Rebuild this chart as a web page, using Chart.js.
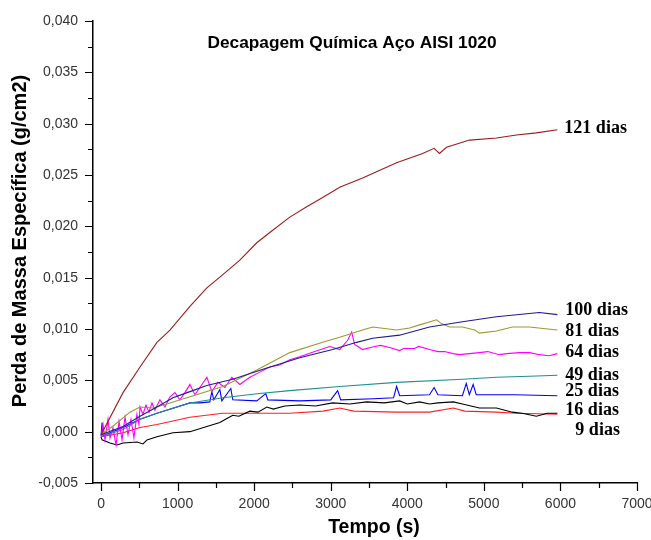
<!DOCTYPE html>
<html>
<head>
<meta charset="utf-8">
<script src="https://cdn.jsdelivr.net/npm/chart.js@4.4.1/dist/chart.umd.min.js"></script>
<style>
  html, body { margin: 0; padding: 0; background: #fff; }
  #wrap { width: 651px; height: 540px; }
</style>
</head>
<body>
<div id="wrap"><canvas id="chart" width="651" height="540"></canvas></div>
<script>
// ── Dados ──────────────────────────────────────────────────────
const xTicks = [0, 1000, 2000, 3000, 4000, 5000, 6000, 7000];
const yTicks = [-0.005, 0, 0.005, 0.010, 0.015, 0.020, 0.025, 0.030, 0.035, 0.040];

const t121 = [0, 287, 509, 730, 900, 1161, 1382, 1591, 1813, 2034, 2204, 2465, 2686, 2895, 3117, 3416, 3860, 4200, 4350, 4420, 4512, 4812, 5164, 5425, 5685, 5960];
const v121 = [-0.0003, 0.0038, 0.0063, 0.0087, 0.0099, 0.0122, 0.0140, 0.0153, 0.0167, 0.0184, 0.0194, 0.0209, 0.0219, 0.0228, 0.0238, 0.0247, 0.0262, 0.0271, 0.0276, 0.0271, 0.0277, 0.0284, 0.0286, 0.0289, 0.0291, 0.0294];

const t100 = [0, 287, 509, 730, 939, 1161, 1382, 1721, 2165, 2595, 3025, 3338, 3547, 3899, 4290, 4721, 5164, 5725, 5960];
const v100 = [-0.0003, 0.0005, 0.0015, 0.0024, 0.0033, 0.0039, 0.0045, 0.0051, 0.0062, 0.0072, 0.0080, 0.0087, 0.0091, 0.0094, 0.0102, 0.0107, 0.0112, 0.0116, 0.0114];

const t81 = [0, 183, 378, 509, 678, 900, 1161, 1591, 2034, 2465, 2895, 3117, 3416, 3547, 3860, 4030, 4160, 4382, 4450, 4551, 4721, 4880, 4942, 5164, 5373, 5594, 5960];
const v81 = [-0.0003, 0.0007, 0.0019, 0.0024, 0.0023, 0.0028, 0.0034, 0.0044, 0.0060, 0.0077, 0.0087, 0.0092, 0.0099, 0.0102, 0.0099, 0.0101, 0.0104, 0.0109, 0.0105, 0.0102, 0.0102, 0.0099, 0.0096, 0.0098, 0.0102, 0.0102, 0.0099];

const t64 = [0, 26, 52, 91, 117, 156, 196, 235, 274, 313, 352, 391, 430, 469, 495, 509, 548, 587, 626, 665, 704, 769, 835, 900, 965, 1030, 1095, 1161, 1226, 1291, 1382, 1447, 1526, 1617, 1708, 1813, 1943, 2073, 2204, 2334, 2465, 2595, 2791, 2986, 3117, 3221, 3273, 3312, 3416, 3573, 3650, 3769, 3899, 3950, 4095, 4150, 4290, 4400, 4486, 4600, 4682, 4942, 5050, 5203, 5300, 5464, 5600, 5725, 5850, 5960];
const v64 = [-0.0005, 0.0007, -0.0008, 0.0012, -0.0006, 0.0004, -0.0013, 0.0010, -0.0008, 0.0014, -0.0003, 0.0012, -0.0006, 0.0017, 0.0007, 0.0024, 0.0017, 0.0026, 0.0019, 0.0028, 0.0021, 0.0031, 0.0024, 0.0034, 0.0038, 0.0031, 0.0038, 0.0046, 0.0036, 0.0043, 0.0053, 0.0039, 0.0048, 0.0043, 0.0053, 0.0046, 0.0053, 0.0058, 0.0063, 0.0065, 0.0070, 0.0073, 0.0078, 0.0083, 0.0080, 0.0089, 0.0097, 0.0085, 0.0080, 0.0083, 0.0084, 0.0082, 0.0079, 0.0081, 0.0081, 0.0083, 0.0080, 0.0078, 0.0078, 0.0076, 0.0075, 0.0077, 0.0078, 0.0075, 0.0076, 0.0077, 0.0077, 0.0075, 0.0074, 0.0076];

const t49 = [0, 287, 509, 730, 1161, 1591, 2034, 2465, 3117, 3860, 4721, 5164, 5594, 5960];
const v49 = [-0.0005, 0.0002, 0.0012, 0.0018, 0.0028, 0.0033, 0.0037, 0.0040, 0.0044, 0.0048, 0.0051, 0.0053, 0.0054, 0.0055];

const t25 = [0, 13, 26, 287, 509, 730, 1161, 1291, 1421, 1447, 1473, 1552, 1578, 1695, 1721, 2034, 2152, 2178, 2595, 3000, 3090, 3130, 3560, 3820, 3860, 3900, 4290, 4350, 4400, 4720, 4770, 4810, 4860, 4900, 5400, 5960];
const v25 = [-0.0004, 0.0009, -0.0004, 0.0004, 0.0012, 0.0018, 0.0028, 0.0028, 0.0029, 0.0039, 0.0031, 0.0041, 0.0030, 0.0042, 0.0031, 0.0030, 0.0037, 0.0031, 0.0030, 0.0031, 0.0040, 0.0031, 0.0032, 0.0033, 0.0044, 0.0035, 0.0036, 0.0043, 0.0036, 0.0035, 0.0047, 0.0036, 0.0046, 0.0036, 0.0036, 0.0035];

const t16 = [0, 13, 117, 209, 287, 470, 548, 600, 730, 939, 1161, 1382, 1552, 1650, 1721, 1800, 1943, 2050, 2165, 2250, 2400, 2595, 2800, 3025, 3250, 3470, 3700, 3900, 4000, 4160, 4290, 4400, 4600, 4720, 4942, 5164, 5373, 5500, 5685, 5830, 5960];
const v16 = [-0.0005, -0.0008, -0.0011, -0.0013, -0.0011, -0.0010, -0.0012, -0.0008, -0.0005, -0.0001, 0.0000, 0.0005, 0.0009, 0.0013, 0.0016, 0.0015, 0.0020, 0.0019, 0.0024, 0.0022, 0.0025, 0.0026, 0.0025, 0.0028, 0.0027, 0.0029, 0.0028, 0.0030, 0.0027, 0.0029, 0.0027, 0.0028, 0.0029, 0.0027, 0.0023, 0.0023, 0.0019, 0.0018, 0.0015, 0.0018, 0.0018];

const t9 = [0, 287, 509, 730, 1161, 1591, 2034, 2465, 2900, 3117, 3300, 3860, 4290, 4600, 4750, 5164, 5425, 5960];
const v9 = [-0.0005, -0.0001, 0.0004, 0.0007, 0.0014, 0.0018, 0.0018, 0.0018, 0.0020, 0.0023, 0.0020, 0.0019, 0.0019, 0.0023, 0.0020, 0.0019, 0.0018, 0.0017];

const seriesNames = ['121 dias', '100 dias', '81 dias', '64 dias', '49 dias', '25 dias', '16 dias', '9 dias'];
const seriesT = [t121, t100, t81, t64, t49, t25, t16, t9];
const seriesV = [v121, v100, v81, v64, v49, v25, v16, v9];

// ── Estilo ─────────────────────────────────────────────────────
const colors = ['#9b1c1c', '#1c1c8e', '#9a9a30', '#ff00ff', '#1e9090', '#0000ff', '#000000', '#ff2020'];
const labelDx = [7, 8, 8, 8, 8, 8, 8, 18];   // deslocamento do rótulo (px)
const labelDy = [-1, -4, 1, -1, 0, -4, -3, 16];
const sans = '"Liberation Sans", Arial, sans-serif';

const datasets = seriesNames.map((name, i) => ({
  label: name,
  data: seriesT[i].map((t, k) => ({ x: t, y: seriesV[i][k] })),
  borderColor: colors[i],
  borderWidth: 1.1,
  pointRadius: 0,
  showLine: true,
  tension: 0,
}));

function fmtY(v) {
  return v.toFixed(3).replace('.', ',');
}

// ── Ticks, títulos e rótulos das curvas ────────────────────────
const decorPlugin = {
  id: 'decor',
  afterDraw(chart) {
    const { ctx, scales: { x, y } } = chart;
    ctx.save();
    ctx.strokeStyle = '#000';
    ctx.lineWidth = 1.2;
    ctx.beginPath();
    for (let v = -0.005; v <= 0.0401; v += 0.0025) {
      const py = Math.round(y.getPixelForValue(v)) + 0.5;
      const major = Math.abs(Math.round(v / 0.005) * 0.005 - v) < 1e-6;
      ctx.moveTo(x.left, py);
      ctx.lineTo(x.left - (major ? 8 : 5), py);
    }
    for (let v = 0; v <= 7000; v += 500) {
      const px = Math.round(x.getPixelForValue(v)) + 0.5;
      ctx.moveTo(px, y.bottom);
      ctx.lineTo(px, y.bottom + (v % 1000 === 0 ? 8 : 5));
    }
    ctx.stroke();

    ctx.fillStyle = '#000';
    ctx.textAlign = 'center';
    ctx.textBaseline = 'middle';
    ctx.font = 'bold 17.3px ' + sans;
    ctx.fillText('Decapagem Química Aço AISI 1020', 352, 43);

    // títulos dos eixos
    ctx.font = 'bold 19.5px ' + sans;
    ctx.fillText('Tempo (s)', 374, 528);
    ctx.save();
    ctx.translate(20, 241);
    ctx.rotate(-Math.PI / 2);
    ctx.font = 'bold 20px ' + sans;
    ctx.fillText('Perda de Massa Específica (g/cm2)', 0, 0);
    ctx.restore();

    ctx.font = 'bold 18px "Liberation Serif", "Times New Roman", serif';
    ctx.textAlign = 'left';
    seriesNames.forEach((name, i) => {
      const tArr = seriesT[i], vArr = seriesV[i];
      const px = x.getPixelForValue(tArr[tArr.length - 1]) + labelDx[i];
      const py = y.getPixelForValue(vArr[vArr.length - 1]) + labelDy[i];
      ctx.fillText(name, px, py);
    });
    ctx.restore();
  },
};

new Chart(document.getElementById('chart'), {
  type: 'scatter',
  data: { datasets },
  plugins: [decorPlugin],
  options: {
    responsive: false,
    animation: false,
    devicePixelRatio: 1,
    layout: { padding: { top: 21, right: 0, left: 0, bottom: 0 } },
    plugins: { legend: { display: false }, tooltip: { enabled: false } },
    scales: {
      x: {
        type: 'linear',
        min: -105,
        max: 7000,
        afterBuildTicks(scale) { scale.ticks = xTicks.map(v => ({ value: v })); },
        afterFit(scale) {
          scale.height = 57;
          scale.paddingLeft = 0;
          scale.paddingRight = 14;
        },
        grid: { display: true, drawOnChartArea: false, drawTicks: false },
        border: { display: true, color: '#000', width: 1.5 },
        ticks: {
          padding: 13,
          color: '#333',
          font: { family: sans, size: 14 },
          maxRotation: 0,
          callback: v => String(v),
        },
      },
      y: {
        type: 'linear',
        min: -0.005,
        max: 0.040,
        afterBuildTicks(scale) { scale.ticks = yTicks.map(v => ({ value: v })); },
        afterFit(scale) {
          scale.width = 93;
          scale.paddingTop = 0;
          scale.paddingBottom = 0;
        },
        grid: { display: true, drawOnChartArea: false, drawTicks: false },
        border: { display: true, color: '#000', width: 1.5 },
        ticks: {
          padding: 15,
          color: '#333',
          font: { family: sans, size: 14 },
          callback: v => fmtY(v),
        },
      },
    },
  },
});
</script>
</body>
</html>
